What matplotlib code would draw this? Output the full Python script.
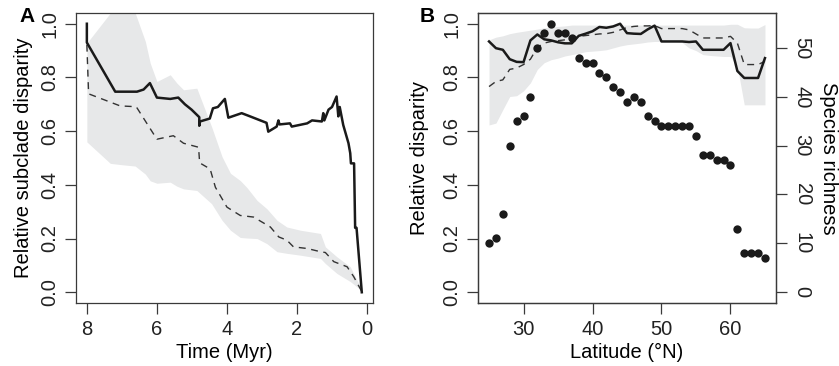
import matplotlib.pyplot as plt

plt.rcParams['font.family'] = ['Liberation Sans', 'DejaVu Sans']

# ---- panel A: subclade disparity through time ----
time_obs = [8.0, 8.0, 7.19, 6.57, 6.38, 6.2, 6.0, 5.62, 5.39, 5.2, 5.01, 4.79, 4.79,
            4.77, 4.49, 4.4, 4.26, 4.06, 3.96, 3.58, 3.34, 2.87, 2.82, 2.58, 2.53,
            2.5, 2.2, 2.15, 1.71, 1.57, 1.29, 1.25, 1.22, 1.1, 1.0, 0.87, 0.82,
            0.78, 0.68, 0.53, 0.48, 0.46, 0.37, 0.34, 0.3, 0.15]
disp_obs = [1.0, 0.93, 0.747, 0.747, 0.755, 0.779, 0.725, 0.72, 0.725, 0.70, 0.68,
            0.652, 0.62, 0.636, 0.647, 0.685, 0.69, 0.72, 0.65, 0.667, 0.655, 0.631,
            0.598, 0.617, 0.64, 0.625, 0.629, 0.617, 0.629, 0.64, 0.636, 0.667,
            0.64, 0.68, 0.69, 0.729, 0.655, 0.69, 0.623, 0.555, 0.518, 0.48, 0.48,
            0.24, 0.24, 0.0]

time_null = [8.0, 7.95, 7.05, 6.59, 6.0, 5.53, 5.24, 4.81, 4.78, 4.48, 4.33, 4.0,
             3.62, 3.24, 2.76, 2.52, 2.29, 2.1, 1.71, 1.33, 1.19, 0.95, 0.57, 0.38,
             0.14]
disp_null = [0.922, 0.739, 0.694, 0.691, 0.570, 0.583, 0.555, 0.54, 0.482, 0.459,
             0.391, 0.317, 0.286, 0.28, 0.243, 0.206, 0.194, 0.169, 0.163, 0.151,
             0.148, 0.114, 0.095, 0.058, 0.0]

time_band = [8.0, 7.33, 7.0, 6.62, 6.33, 6.19, 6.0, 5.62, 5.43, 5.24, 4.86, 4.44,
             4.14, 3.9, 3.62, 3.43, 3.14, 2.86, 2.57, 2.29, 1.9, 1.33, 1.19, 0.86,
             0.48, 0.19, 0.14]
band_hi_a = [0.928, 1.04, 1.10, 1.04, 0.934, 0.853, 0.785, 0.81, 0.779, 0.754, 0.76,
             0.617, 0.505, 0.443, 0.416, 0.39, 0.342, 0.311, 0.268, 0.243, 0.231,
             0.219, 0.169, 0.132, 0.095, 0.02, 0.0]
band_lo_a = [0.56, 0.48, 0.475, 0.47, 0.44, 0.415, 0.406, 0.41, 0.395, 0.385, 0.379,
             0.33, 0.268, 0.231, 0.204, 0.202, 0.2, 0.181, 0.151, 0.145, 0.138,
             0.126, 0.107, 0.07, 0.04, 0.01, 0.0]

# ---- panel B: disparity and richness by latitude ----
lat = list(range(25, 66))
richness = [10, 11, 16, 30, 35, 36, 40, 50, 53, 55,
            53, 53, 52, 48, 47, 47, 45, 44, 42, 41,
            39, 40, 39, 36, 35, 34, 34, 34, 34, 34,
            32, 28, 28, 27, 27, 26, 13, 8, 8, 8, 7]
disp_lat = [0.934, 0.909, 0.903, 0.868, 0.858, 0.857, 0.938, 0.96, 0.942, 0.938,
            0.931, 0.927, 0.927, 0.955, 0.963, 0.972, 0.988, 0.985, 0.990, 1.0,
            0.965, 0.963, 0.962, 0.979, 0.993, 0.934, 0.934, 0.934, 0.934, 0.932,
            0.934, 0.903, 0.903, 0.903, 0.903, 0.928, 0.824, 0.798, 0.798, 0.798,
            0.872]
null_lat = [0.766, 0.785, 0.791, 0.83, 0.835, 0.848, 0.868, 0.912, 0.928, 0.934,
            0.937, 0.940, 0.943, 0.953, 0.956, 0.959, 0.962, 0.963, 0.968, 0.977,
            0.986, 0.99, 0.992, 0.992, 0.993, 0.982, 0.982, 0.982, 0.982, 0.977,
            0.962, 0.947, 0.947, 0.947, 0.947, 0.953, 0.928, 0.848, 0.848, 0.848,
            0.86]
band_hi_b = [0.94, 0.95, 0.955, 0.963, 0.968, 0.972, 0.976, 0.98, 0.985, 0.988,
             0.99, 0.992, 0.995, 0.995, 0.995, 0.995, 0.995, 0.995, 0.995, 0.995,
             0.995, 0.995, 0.995, 0.995, 0.995, 0.995, 0.995, 0.995, 0.995, 0.995,
             0.995, 0.995, 0.995, 0.995, 0.995, 0.998, 0.998, 0.985, 0.984, 0.984,
             0.997]
band_lo_b = [0.623, 0.63, 0.68, 0.729, 0.732, 0.75, 0.78, 0.83, 0.855, 0.866,
             0.872, 0.88, 0.885, 0.89, 0.896, 0.898, 0.9, 0.903, 0.91, 0.917,
             0.922, 0.925, 0.928, 0.932, 0.934, 0.934, 0.934, 0.934, 0.93, 0.91,
             0.9, 0.885, 0.882, 0.88, 0.878, 0.878, 0.84, 0.698, 0.698, 0.698,
             0.698]

BAND = '#e7e8e9'
INK = '#1a1a1a'
FRAME = '#3a3a3a'
FS = 14.5

fig = plt.figure(figsize=(8.39, 3.66), dpi=100)
ax_a = fig.add_axes([76 / 839, 63 / 366, 297 / 839, 290 / 366])
ax_b = fig.add_axes([478 / 839, 63 / 366, 298 / 839, 290 / 366])


def style(ax):
    for s in ax.spines.values():
        s.set_color(FRAME)
        s.set_linewidth(0.9)
    ax.tick_params(direction='out', length=8, width=0.9, color=FRAME,
                   labelsize=FS, labelcolor='#222222', pad=4)
    ax.tick_params(axis='y', labelrotation=90)
    for lab in ax.get_yticklabels():
        lab.set_va('center')


# A
ax_a.fill_between(time_band, band_lo_a, band_hi_a, color=BAND, lw=0)
ax_a.plot(time_null, disp_null, color='#333333', lw=1.0, ls=(0, (5, 4)))
ax_a.plot(time_obs, disp_obs, color=INK, lw=1.8)
ax_a.set_xlim(8.31, -0.17)
ax_a.set_ylim(-0.04, 1.04)
ax_a.set_xticks([8, 6, 4, 2, 0])
ax_a.set_yticks([0, 0.2, 0.4, 0.6, 0.8, 1.0])
ax_a.set_yticklabels(['0.0', '0.2', '0.4', '0.6', '0.8', '1.0'])
style(ax_a)
ax_a.set_xlabel('Time (Myr)', fontsize=FS, labelpad=3)
ax_a.set_ylabel('Relative subclade disparity', fontsize=FS, va='center')
ax_a.yaxis.set_label_coords(-0.178, 0.5)

# B
ax_b.fill_between(lat, band_lo_b, band_hi_b, color=BAND, lw=0)
ax_b.plot(lat, null_lat, color='#333333', lw=1.0, ls=(0, (5, 4)))
ax_b.plot(lat, disp_lat, color=INK, lw=1.8)
ax_b.set_xlim(23.4, 66.6)
ax_b.set_ylim(-0.04, 1.04)
ax_b.set_xticks([30, 40, 50, 60])
ax_b.set_yticks([0, 0.2, 0.4, 0.6, 0.8, 1.0])
ax_b.set_yticklabels(['0.0', '0.2', '0.4', '0.6', '0.8', '1.0'])
style(ax_b)
ax_b.set_xlabel('Latitude (°N)', fontsize=FS, labelpad=3)
ax_b.set_ylabel('Relative disparity', fontsize=FS, va='center')
ax_b.yaxis.set_label_coords(-0.195, 0.5)

ax_r = ax_b.twinx()
ax_r.scatter(lat, richness, s=36, color=INK, zorder=3, linewidths=0)
ax_r.set_ylim(-2.25, 57.2)
ax_r.set_yticks([0, 10, 20, 30, 40, 50])
for s in ax_r.spines.values():
    s.set_color(FRAME)
    s.set_linewidth(0.9)
ax_r.tick_params(direction='out', length=8, width=0.9, color=FRAME,
                 labelsize=FS, labelcolor='#222222', pad=4, labelrotation=-90)
for lab in ax_r.get_yticklabels():
    lab.set_va('center')
ax_r.set_ylabel('Species richness', fontsize=FS, rotation=-90, va='center')
ax_r.yaxis.set_label_coords(1.175, 0.5)

fig.text(27.5 / 839, 1 - 16 / 366, 'A', fontsize=15, fontweight='bold',
         ha='center', va='center')
fig.text(427 / 839, 1 - 16 / 366, 'B', fontsize=15, fontweight='bold',
         ha='center', va='center')

fig.savefig('out.png', dpi=100)
